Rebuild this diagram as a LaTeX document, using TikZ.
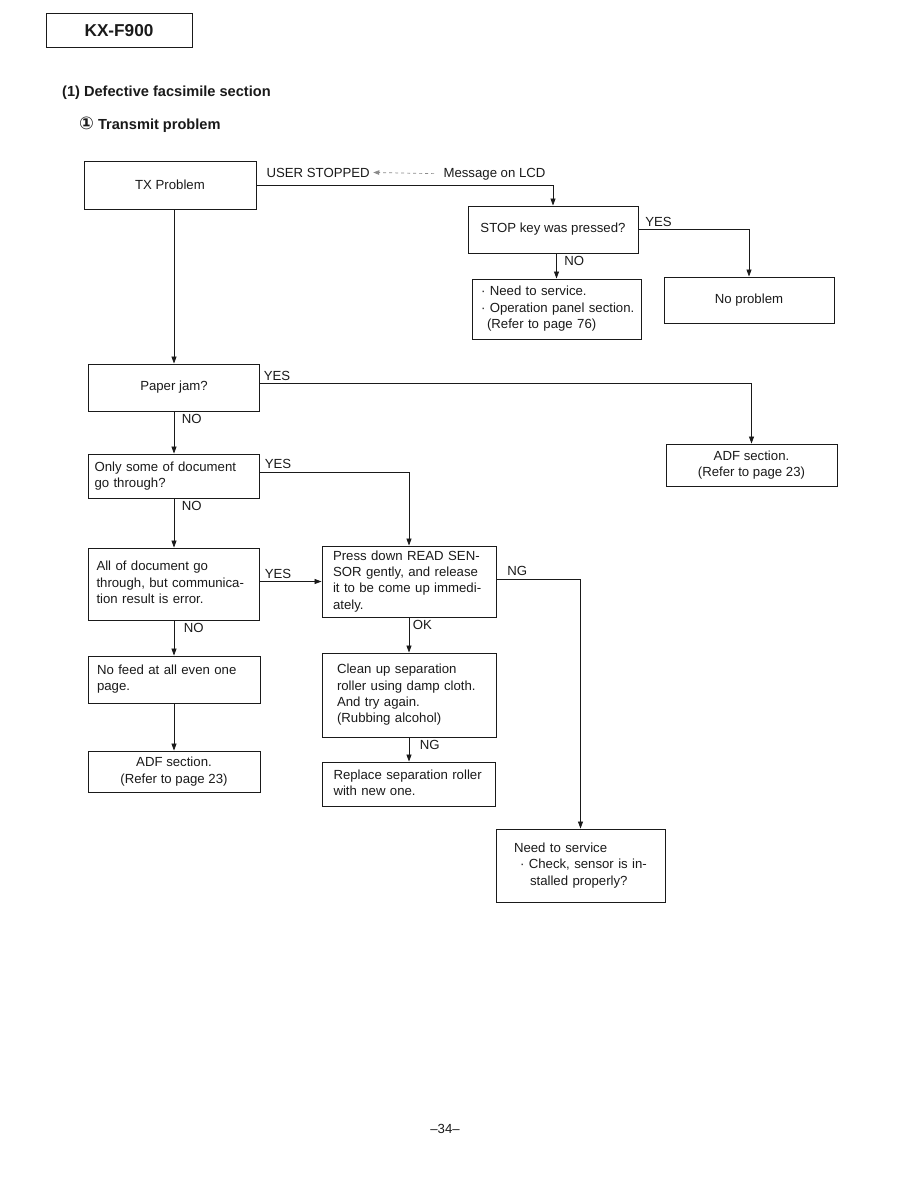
\documentclass[tikz,border=0pt]{standalone}
\usepackage{fontspec}
\setmainfont{Liberation Sans}
\newfontfamily\symfont{DejaVu Sans}
\usepackage{xcolor}
\usepackage{tikz}
\usetikzlibrary{positioning,calc,arrows.meta}
\definecolor{FInk}{HTML}{1A1A1A}
\definecolor{FGray}{HTML}{8A8A8A}
\newcommand{\flowlines}[1]{\begin{tabular}{@{}l@{}}#1\end{tabular}}

\begin{document}
\begin{tikzpicture}[x=1pt,y=-1pt,
  every node/.style={font=\fontsize{13.2}{16.4}\selectfont, text=FInk},
  cbox/.style={draw=FInk, line width=0.9pt, rectangle, inner sep=0pt, align=center},
  fbox/.style={draw=FInk, line width=0.9pt, rectangle, inner ysep=0pt},
  flow/.style={draw=FInk, line width=0.8pt, -{Triangle[length=7pt,width=5pt]}},
  lbl/.style={inner sep=2.5pt}]
  \useasboundingbox (0,0) rectangle (918,1188);

  % header and titles
  \node[draw=FInk, line width=1pt, minimum width=146, minimum height=34,
        font=\fontsize{17.2}{20}\selectfont\bfseries] (model) at (119,31) {KX-F900};
  \node[anchor=base west, inner sep=0pt, font=\fontsize{14.6}{18}\selectfont\bfseries]
        (sec) at (62,97) {(1) Defective facsimile section};
  \node[anchor=base west, inner sep=0pt, font=\fontsize{14.6}{18}\selectfont\bfseries]
        (sub) at (79,129) {{\symfont\fontsize{17.5}{18}\selectfont ①} Transmit problem};

  % top row
  \node[cbox, minimum width=172, minimum height=48] (tx) at (170,185) {TX Problem};
  \node[anchor=base west] (usr) at (263,177) {USER STOPPED};
  \node[anchor=base west] (msg) at (440,177) {Message on LCD};
  \node[cbox, minimum width=170, minimum height=47] (stop) at (553,229.5) {STOP key was pressed?};
  \node[fbox, inner xsep=9pt, text width=151pt, minimum height=60] (need) at (556.5,309)
        {\flowlines{· Need to service.\\ · Operation panel section.\\ \hspace*{6pt}(Refer to page 76)}};
  \node[cbox, minimum width=170, minimum height=46] (noprob) at (749,300) {No problem};

  % left column
  \node[cbox, minimum width=171, minimum height=47] (jam) at (174,387.5) {Paper jam?};
  \node[fbox, inner xsep=6pt, text width=159pt, minimum height=44] (only) at (174,476)
        {\flowlines{Only some of document\\ go through?}};
  \node[fbox, inner xsep=8pt, text width=155pt, minimum height=72] (all) at (174,584)
        {\flowlines{All of document go\\ through, but communica-\\ tion result is error.}};
  \node[fbox, inner xsep=9pt, text width=154pt, minimum height=47] (nofeed) at (174,679.5)
        {\flowlines{No feed at all even one\\ page.}};
  \node[cbox, minimum width=172, minimum height=41] (adfL) at (174,771.5)
        {ADF section.\\ (Refer to page 23)};

  % middle column
  \node[fbox, inner xsep=11pt, text width=152pt, minimum height=71] (press) at (409,581.5)
        {\flowlines{Press down READ SEN-\\ SOR gently, and release\\ it to be come up immedi-\\ ately.}};
  \node[fbox, inner xsep=15pt, text width=144pt, minimum height=84] (clean) at (409,695)
        {\flowlines{Clean up separation\\ roller using damp cloth.\\ And try again.\\ (Rubbing alcohol)}};
  \node[fbox, inner xsep=11pt, text width=151pt, minimum height=44] (replace) at (409,784)
        {\flowlines{Replace separation roller\\ with new one.}};

  % right side
  \node[cbox, minimum width=171, minimum height=42] (adfR) at (751.5,465)
        {ADF section.\\ (Refer to page 23)};
  \node[fbox, inner xsep=18pt, text width=133pt, minimum height=73] (svc) at (580.5,865.5)
        {\flowlines{Need to service\\ \hspace*{6pt}· Check, sensor is in-\\ \hspace*{16pt}stalled properly?}};

  \node[anchor=base] (pg) at (445,1133) {--34--};

  % connectors
  \draw[FGray, line width=0.7pt, dash pattern=on 3pt off 3pt, shorten <=6pt,
        -{Triangle[length=6pt,width=4.5pt]}] (msg.west) -- (usr.east);
  \draw[flow] (tx.east) -| (stop.north);
  \draw[flow] (stop.east) -| node[lbl, pos=0, anchor=south west, xshift=4pt] (yes1) {YES} (noprob.north);
  \draw[flow] (need.north |- stop.south) -- node[lbl, pos=0, anchor=north west, xshift=5pt] (no1) {NO} (need.north);
  \draw[flow] (jam.north |- tx.south) -- (jam.north);
  \draw[flow] ([yshift=4pt]jam.east) -| node[lbl, pos=0, anchor=south west, xshift=1pt] (yes2) {YES} (adfR.north);
  \draw[flow] (jam.south) -- node[lbl, pos=0, anchor=north west, xshift=5pt] (no2) {NO} (only.north);
  \draw[flow] ([yshift=4pt]only.east) -| node[lbl, pos=0, anchor=south west, xshift=2pt] (yes3) {YES} (press.north);
  \draw[flow] (only.south) -- node[lbl, pos=0, anchor=north west, xshift=5pt] (no3) {NO} (all.north);
  \draw[flow] (all.east |- press.west) -- node[lbl, pos=0, anchor=south west, xshift=2pt] (yes4) {YES} (press.west);
  \draw[flow] (all.south) -- node[lbl, pos=0, anchor=north west, xshift=7pt] (no4) {NO} (nofeed.north);
  \draw[flow] (nofeed.south) -- (adfL.north);
  \draw[flow] ([yshift=2.5pt]press.east) -| node[lbl, pos=0, anchor=south west, xshift=8pt] (ng1) {NG} (svc.north);
  \draw[flow] (press.south) -- node[lbl, pos=0, anchor=north west, xshift=1pt] (ok1) {OK} (clean.north);
  \draw[flow] (clean.south) -- node[lbl, pos=0, anchor=north west, xshift=8pt] (ng2) {NG} (replace.north);
\end{tikzpicture}
\end{document}
